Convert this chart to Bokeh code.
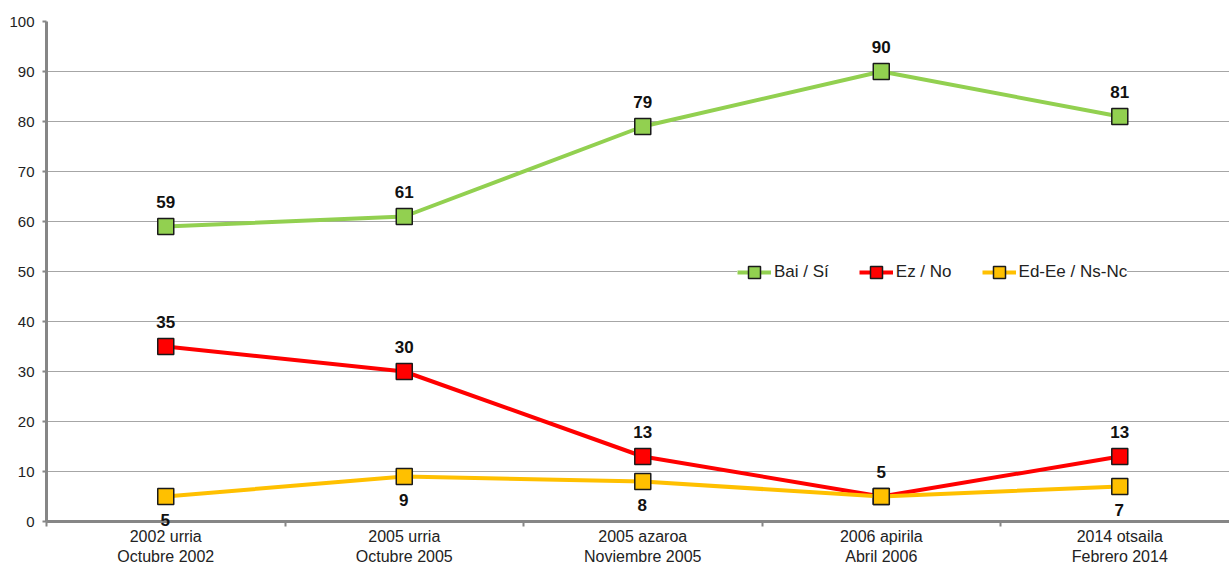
from bokeh.plotting import figure
from bokeh.models import ColumnDataSource, FixedTicker, Legend, LegendItem, Range1d, LabelSet
from bokeh.models import HTMLLabelSet
from bokeh.core.properties import value
from bokeh.embed import file_html
from bokeh.resources import INLINE

categories = ["2002 urria\nOctubre 2002", "2005 urria\nOctubre 2005", "2005 azaroa\nNoviembre 2005",
              "2006 apirila\nAbril 2006", "2014 otsaila\nFebrero 2014"]
bai_si = [59, 61, 79, 90, 81]
ez_no = [35, 30, 13, 5, 13]
ed_ee = [5, 9, 8, 5, 7]
ed_ee_labels = ["5", "9", "8", "", "7"]
series_names = ["Bai / Sí", "Ez / No", "Ed-Ee / Ns-Nc"]
colors = ["#92D050", "#FF0000", "#FFC000"]

xs = [i + 0.5 for i in range(len(categories))]
FONT = "Liberation Sans"

p = figure(width=1229, height=567, output_backend="svg", toolbar_location=None,
           x_range=Range1d(0, 4.96), y_range=Range1d(0, 100),
           min_border_left=46, min_border_top=21, min_border_bottom=46, min_border_right=0)
p.outline_line_color = None
p.background_fill_color = "white"

# axes
p.yaxis.ticker = FixedTicker(ticks=list(range(0, 101, 10)))
p.yaxis.axis_line_color = "#868686"
p.yaxis.axis_line_width = 3
p.yaxis.major_tick_line_color = "#868686"
p.yaxis.major_tick_line_width = 2
p.yaxis.major_tick_out = 4
p.yaxis.major_tick_in = 0
p.yaxis.minor_tick_line_color = None
p.yaxis.major_label_text_font = FONT
p.yaxis.major_label_text_font_size = "15px"
p.yaxis.major_label_text_color = "#222222"
p.yaxis.major_label_standoff = 8

p.xaxis.ticker = FixedTicker(ticks=xs, minor_ticks=[0, 1, 2, 3, 4, 5])
p.xaxis.major_label_overrides = {x: c for x, c in zip(xs, categories)}
p.xaxis.axis_line_color = "#868686"
p.xaxis.axis_line_width = 3
p.xaxis.major_tick_line_color = None
p.xaxis.major_tick_out = 0
p.xaxis.major_tick_in = 0
p.xaxis.minor_tick_line_color = "#868686"
p.xaxis.minor_tick_line_width = 2
p.xaxis.minor_tick_out = 5
p.xaxis.minor_tick_in = 0
p.xaxis.major_label_text_font = FONT
p.xaxis.major_label_text_font_size = "16px"
p.xaxis.major_label_text_color = "#222222"
p.xaxis.major_label_standoff = 1

p.xgrid.grid_line_color = None
p.ygrid.grid_line_color = "#A6A6A6"
p.ygrid.grid_line_width = 1.2

items = []
for vals, name, col in zip([bai_si, ez_no, ed_ee], series_names, colors):
    src = ColumnDataSource(dict(x=xs, y=vals))
    l = p.line("x", "y", source=src, line_color=col, line_width=4)
    m = p.scatter("x", "y", source=src, marker="square", size=16, fill_color=col,
                  line_color="#1a1a1a", line_width=1.5)
    items.append(LegendItem(label=name, renderers=[l, m]))

# data labels (above the points)
for vals in [bai_si, ez_no]:
    s = ColumnDataSource(dict(x=xs, y=vals, t=[str(v) for v in vals]))
    p.add_layout(LabelSet(x="x", y="y", text="t", source=s, text_align="center",
                          text_baseline="middle", y_offset=25, text_font=value(FONT),
                          text_font_style="bold", text_font_size="17px",
                          text_color="#111111", level="annotation"))

# data labels below the points (may overlap the axis line, so drawn as HTML)
s3 = ColumnDataSource(dict(x=xs, y=ed_ee, t=ed_ee_labels))
p.add_layout(HTMLLabelSet(x="x", y="y", text="t", source=s3, text_align="center",
                          text_baseline="middle", y_offset=-25, text_font=value(FONT),
                          text_font_style="bold", text_font_size="17px",
                          text_color="#111111"))

legend = Legend(items=items, orientation="horizontal", location=(691, 234),
                glyph_width=34, glyph_height=30, label_standoff=3, spacing=30,
                padding=4, margin=0, border_line_color=None,
                background_fill_color="white", background_fill_alpha=1,
                label_text_font=FONT, label_text_font_size="17px",
                label_text_color="#222222")
p.add_layout(legend)

open("out.html", "w").write(file_html(p, INLINE))
